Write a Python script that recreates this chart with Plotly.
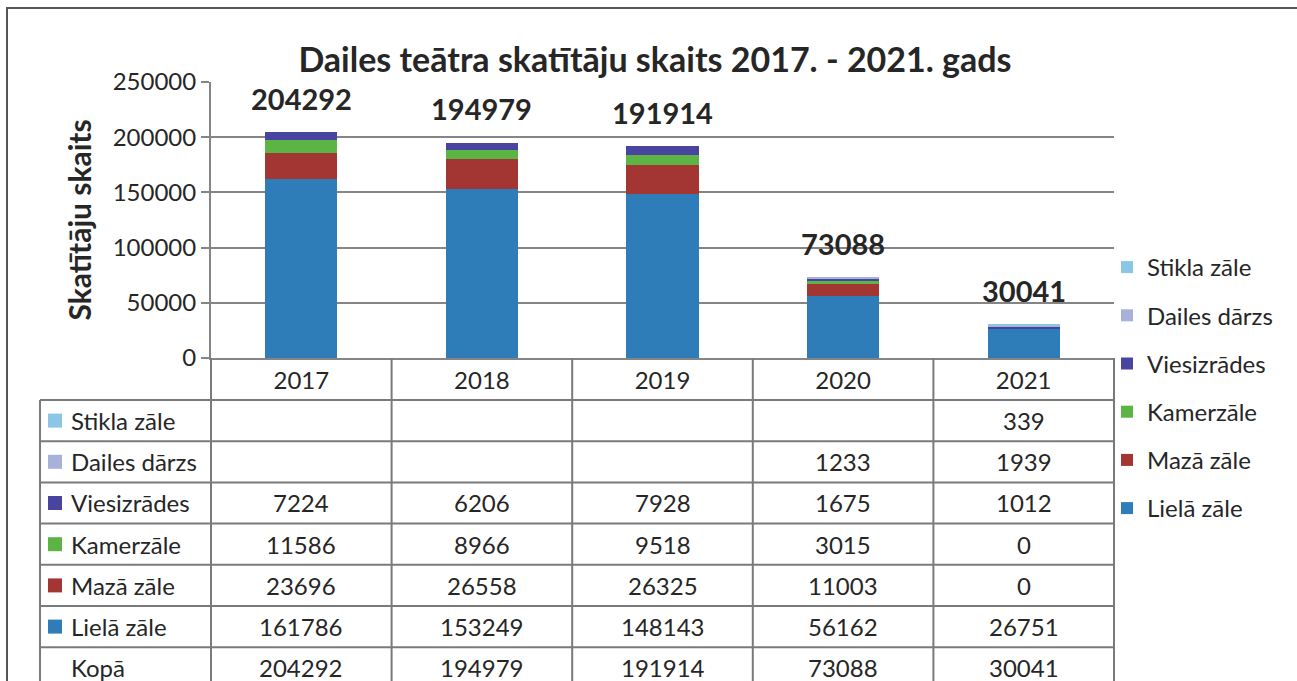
import plotly.graph_objects as go

years = ["2017", "2018", "2019", "2020", "2021"]
series_names = ["Lielā zāle", "Mazā zāle", "Kamerzāle", "Viesizrādes", "Dailes dārzs", "Stikla zāle"]
liela_zale = [161786, 153249, 148143, 56162, 26751]
maza_zale = [23696, 26558, 26325, 11003, 0]
kamerzale = [11586, 8966, 9518, 3015, 0]
viesizrades = [7224, 6206, 7928, 1675, 1012]
dailes_darzs = [None, None, None, 1233, 1939]
stikla_zale = [None, None, None, None, 339]
colors = ["#2F7DB8", "#A33532", "#5CB445", "#4A44A1", "#A7B1DA", "#8BC6E6"]
title_text = "Dailes teātra skatītāju skaits 2017. - 2021. gads"
y_title = "Skatītāju skaits"
total_label = "Kopā"

series_values = [liela_zale, maza_zale, kamerzale, viesizrades, dailes_darzs, stikla_zale]
totals = [sum(v[i] or 0 for v in series_values) for i in range(len(years))]

W, H = 1297, 681
L, R, T, B = 211, 1114, 82, 358
FONT = "Lato"
GRID = "#858585"
TXT = "#262626"


def px(xp):
    return (xp - L) / (R - L)


def py(yp):
    return (B - yp) / (B - T)


fig = go.Figure()
n = len(series_names)
for k, (name, vals, col) in enumerate(zip(series_names, series_values, colors)):
    fig.add_trace(go.Bar(
        x=years, y=vals, name=name, marker=dict(color=col, line=dict(width=0)),
        legendgroup=name, legendrank=n - k,
    ))

annotations = []
shapes = []

# totals above bars
for i, tot in enumerate(totals):
    annotations.append(dict(x=i, y=tot, xref="x", yref="y", text=f"<b>{tot}</b>",
                            showarrow=False, yanchor="middle", yshift=34,
                            font=dict(family=FONT, size=29, color=TXT)))

# table
row_top = 400
row_h = 41.2
rows = list(reversed(list(zip(series_names, series_values, colors)))) + [(total_label, totals, None)]
line_style = dict(color="#7a7a7a", width=2)
bottom = 700
for k in range(len(rows)):
    yy = row_top + k * row_h
    shapes.append(dict(type="line", xref="paper", yref="paper", x0=px(40), x1=1, y0=py(yy), y1=py(yy),
                       line=line_style, layer="above"))
shapes.append(dict(type="line", xref="paper", yref="paper", x0=px(40), x1=px(40), y0=py(row_top), y1=py(bottom),
                   line=line_style))
for i in range(len(years) + 1):
    xx = i / len(years)
    shapes.append(dict(type="line", xref="paper", yref="paper", x0=xx, x1=xx, y0=py(B), y1=py(bottom),
                       line=line_style))

for k, (name, vals, col) in enumerate(rows):
    yc = py(row_top + k * row_h + row_h / 2)
    if col is not None:
        shapes.append(dict(type="rect", xref="paper", yref="paper", x0=px(48), x1=px(62),
                           y0=yc - 7 / (B - T), y1=yc + 7 / (B - T), fillcolor=col, line=dict(width=0)))
    annotations.append(dict(x=px(69), y=yc, xref="paper", yref="paper", text=name, showarrow=False,
                            xanchor="left", yanchor="middle", font=dict(family=FONT, size=24, color=TXT)))
    for i, v in enumerate(vals):
        annotations.append(dict(x=i, y=yc, xref="x", yref="paper", text="" if v is None else str(v),
                                showarrow=False, yanchor="middle",
                                font=dict(family=FONT, size=24, color=TXT)))

# outer frame
shapes.append(dict(type="rect", xref="paper", yref="paper", x0=px(7), x1=px(1320), y0=py(8), y1=py(720),
                   line=dict(color="#555555", width=2)))

fig.update_layout(
    width=W, height=H,
    margin=dict(l=L, r=W - R, t=T, b=H - B, pad=0),
    paper_bgcolor="white", plot_bgcolor="white",
    barmode="stack", bargap=0.6,
    title=dict(text=f"<b>{title_text}</b>", x=655 / W, xanchor="center", y=1 - 60 / H, yanchor="middle",
               font=dict(family=FONT, size=34, color=TXT)),
    font=dict(family=FONT, color=TXT),
    showlegend=True,
    legend=dict(x=px(1107), xanchor="left", y=py(245), yanchor="top", traceorder="grouped",
                tracegroupgap=14, font=dict(family=FONT, size=24, color=TXT),
                bgcolor="rgba(0,0,0,0)", maxheight=600),
    annotations=annotations,
    shapes=shapes,
)
fig.update_xaxes(type="category", range=[-0.5, 4.5], showgrid=False, showline=True, linecolor=GRID, linewidth=2,
                 ticks="", tickfont=dict(family=FONT, size=24, color=TXT), ticklabelstandoff=0)
fig.update_yaxes(range=[0, 250000], dtick=50000, showgrid=True, gridcolor=GRID, gridwidth=2,
                 showline=True, linecolor=GRID, linewidth=2, ticks="outside", ticklen=8, tickcolor=GRID,
                 tickwidth=2, tickfont=dict(family=FONT, size=24, color=TXT), tickformat="d",
                 title=dict(text=f"<b>{y_title}</b>", font=dict(family=FONT, size=30, color=TXT),
                            standoff=12),
                 zeroline=False)

fig.write_html("out.html", config={"displayModeBar": False},
               post_script="document.body.style.margin='0';document.body.style.overflow='hidden';")
